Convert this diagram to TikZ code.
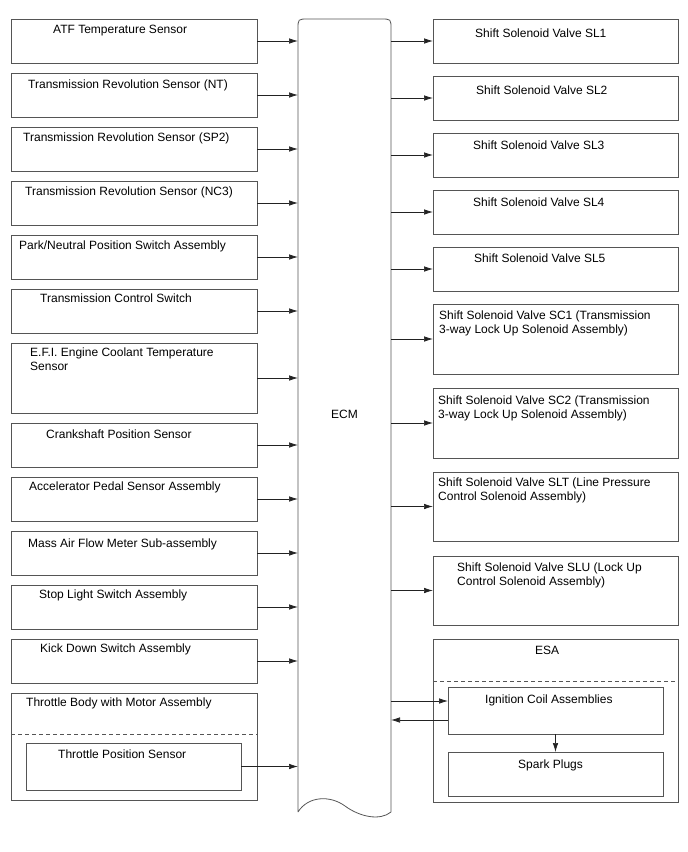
\documentclass[tikz,border=0pt]{standalone}
\usepackage{fontspec}
\setmainfont{Liberation Sans}
\usetikzlibrary{arrows.meta,fit}
\definecolor{boxc}{HTML}{555555}
\definecolor{arrc}{HTML}{222222}
\begin{document}
\begin{tikzpicture}[x=1pt,y=-1pt,
  box/.style={draw=boxc, line width=0.8pt, inner sep=0pt, outer sep=0pt, fill=none},
  lbl/.style={anchor=base west, inner sep=0pt, font=\fontsize{12}{14.5}\selectfont},
  arr/.style={draw=arrc, line width=0.7pt, -{Latex[length=9pt,width=5.5pt]}},
  dsh/.style={draw=boxc, line width=0.8pt, dash pattern=on 4pt off 3pt},
  ecmline/.style={draw=boxc, line width=0.8pt}]
\useasboundingbox (0,0) rectangle (688,852);

% ECM
\node[inner sep=0pt, outer sep=0pt, fit={(298,19) (391,812)}] (ecm) {};
\draw[ecmline] (298,812) -- (298,29) .. controls (298,19) .. (308,19) -- (381,19)
  .. controls (391,19) .. (391,29) -- (391,812)
  .. controls (380,821) and (360,817) .. (345,806)
  .. controls (330,795) and (308,796) .. (298,812);
\node[lbl] (ecmt) at (331,418) {ECM};

% Left boxes
\node[box, fit={(11,19) (257,63)}] (L1) {};
\node[lbl] at (53,33) {ATF Temperature Sensor};
\node[box, fit={(11,73) (257,117)}] (L2) {};
\node[lbl] at (28,88) {Transmission Revolution Sensor (NT)};
\node[box, fit={(11,127) (257,171)}] (L3) {};
\node[lbl] at (23,141) {Transmission Revolution Sensor (SP2)};
\node[box, fit={(11,181) (257,225)}] (L4) {};
\node[lbl] at (25,195) {Transmission Revolution Sensor (NC3)};
\node[box, fit={(11,235) (257,279)}] (L5) {};
\node[lbl] at (19,249) {Park/Neutral Position Switch Assembly};
\node[box, fit={(11,289) (257,333)}] (L6) {};
\node[lbl] at (40,302) {Transmission Control Switch};
\node[box, fit={(11,343) (257,413)}] (L7) {};
\node[lbl] at (30,356) {\begin{tabular}[t]{@{}l@{}}E.F.I. Engine Coolant Temperature\\Sensor\end{tabular}};
\node[box, fit={(11,423) (257,467)}] (L8) {};
\node[lbl] at (46,438) {Crankshaft Position Sensor};
\node[box, fit={(11,477) (257,521)}] (L9) {};
\node[lbl] at (29,490) {Accelerator Pedal Sensor Assembly};
\node[box, fit={(11,531) (257,575)}] (L10) {};
\node[lbl] at (28,547) {Mass Air Flow Meter Sub-assembly};
\node[box, fit={(11,585) (257,629)}] (L11) {};
\node[lbl] at (39,598) {Stop Light Switch Assembly};
\node[box, fit={(11,639) (257,683)}] (L12) {};
\node[lbl] at (40,652) {Kick Down Switch Assembly};
\node[box, fit={(11,693) (257,800)}] (L13) {};
\node[lbl] at (26,706) {Throttle Body with Motor Assembly};
\draw[dsh] (11,734) -- (257,734);
\node[box, fit={(26,743) (241,790)}] (tps) {};
\node[lbl] at (58,758) {Throttle Position Sensor};

\foreach \n in {L1,L2,L3,L4,L5,L6,L7,L8,L9,L10,L11,L12}
  \draw[arr] (\n.east) -- (\n.east -| ecm.west);
\draw[arr] (tps.east) -- (tps.east -| ecm.west);

% Right boxes
\node[box, fit={(433,19) (678,63)}] (R1) {};
\node[lbl] at (475,37) {Shift Solenoid Valve SL1};
\node[box, fit={(433,76) (678,120)}] (R2) {};
\node[lbl] at (476,94) {Shift Solenoid Valve SL2};
\node[box, fit={(433,133) (678,177)}] (R3) {};
\node[lbl] at (473,149) {Shift Solenoid Valve SL3};
\node[box, fit={(433,190) (678,234)}] (R4) {};
\node[lbl] at (473,206) {Shift Solenoid Valve SL4};
\node[box, fit={(433,247) (678,291)}] (R5) {};
\node[lbl] at (474,262) {Shift Solenoid Valve SL5};
\node[box, fit={(433,304) (678,374)}] (R6) {};
\node[lbl] at (439,319) {\begin{tabular}[t]{@{}l@{}}Shift Solenoid Valve SC1 (Transmission\\3-way Lock Up Solenoid Assembly)\end{tabular}};
\node[box, fit={(433,388) (678,458)}] (R7) {};
\node[lbl] at (438,404) {\begin{tabular}[t]{@{}l@{}}Shift Solenoid Valve SC2 (Transmission\\3-way Lock Up Solenoid Assembly)\end{tabular}};
\node[box, fit={(433,472) (678,541)}] (R8) {};
\node[lbl] at (438,486) {\begin{tabular}[t]{@{}l@{}}Shift Solenoid Valve SLT (Line Pressure\\Control Solenoid Assembly)\end{tabular}};
\node[box, fit={(433,556) (678,625)}] (R9) {};
\node[lbl] at (457,571) {\begin{tabular}[t]{@{}l@{}}Shift Solenoid Valve SLU (Lock Up\\Control Solenoid Assembly)\end{tabular}};

\foreach \n in {R1,R2,R3,R4,R5,R6,R7,R8,R9}
  \draw[arr] (\n.west -| ecm.east) -- (\n.west);

% ESA
\node[box, fit={(433,639) (678,802)}] (esa) {};
\node[lbl] at (535,654) {ESA};
\draw[dsh] (433,681) -- (678,681);
\node[box, fit={(448,687) (663,734)}] (ign) {};
\node[lbl] at (485,703) {Ignition Coil Assemblies};
\node[box, fit={(448,752) (663,796)}] (spark) {};
\node[lbl] at (518,768) {Spark Plugs};
\coordinate (ia) at ([yshift=9.5pt]ign.west);
\coordinate (ib) at ([yshift=-9.5pt]ign.west);
\draw[arr] (ia -| ecm.east) -- (ia);
\draw[arr] (ib) -- (ib -| ecm.east);
\draw[arr] (ign.south) -- (spark.north);
\end{tikzpicture}
\end{document}
